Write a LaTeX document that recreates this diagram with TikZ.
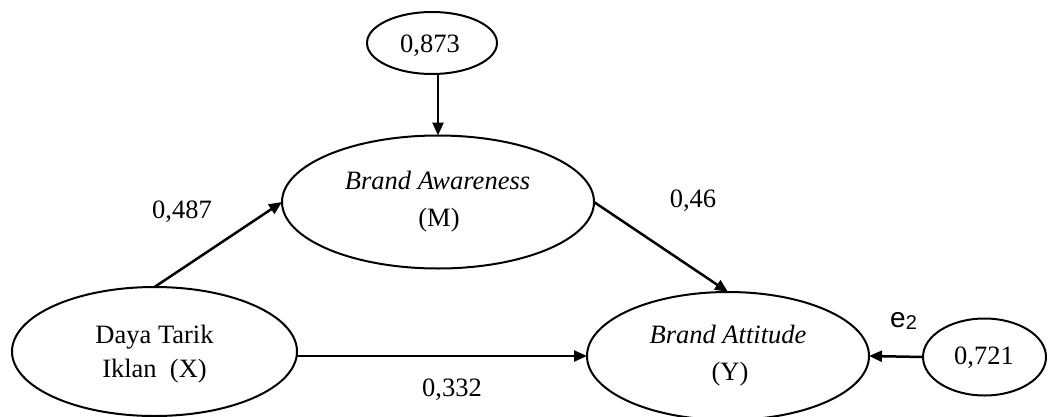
\documentclass[tikz,border=0pt]{standalone}
\usepackage{fontspec}
\setmainfont{Liberation Serif}
\newfontfamily\arialfont{Liberation Sans}
\usetikzlibrary{shapes.geometric,arrows.meta}
\tikzset{
  oval/.style={ellipse,draw,line width=2pt,inner sep=0pt,outer sep=0pt},
  arr/.style={line width=2.5pt,-{Triangle[length=13pt,width=11pt]}},
  txt/.style={anchor=base,inner sep=0pt,font=\fontsize{26.5}{30}\selectfont},
}
\begin{document}
\begin{tikzpicture}[x=1pt,y=-1pt]
\useasboundingbox (0,0) rectangle (1048,417);
% ellipses
\node[oval,minimum width=130pt,minimum height=62pt] (e873) at (432,43) {};
\node[oval,minimum width=312pt,minimum height=133pt] (M) at (438,202) {};
\node[oval,minimum width=285pt,minimum height=129pt] (X) at (154.5,351.5) {};
\node[oval,minimum width=282pt,minimum height=128pt] (Y) at (728,356) {};
\node[oval,minimum width=123pt,minimum height=77pt] (e721) at (984.5,357) {};
% texts
\node[txt] (t873) at (430,53) {0,873};
\node[txt] (tM1) at (437.5,189) {\itshape Brand Awareness};
\node[txt] (tM2) at (439,226) {(M)};
\node[txt] (tX1) at (154.5,343) {Daya Tarik};
\node[txt] (tX2) at (154.5,377) {Iklan\ \ (X)};
\node[txt] (tY1) at (728,343) {\itshape Brand Attitude};
\node[txt] (tY2) at (730,380) {(Y)};
\node[txt] (t721) at (984,364) {0,721};
% connectors
\draw[arr] (M.north |- e873.south) -- (M.north);
\draw[arr] (X.north) -- (M.west);
\draw[arr] (M.east) -- (Y.north);
\draw[arr] (X.east |- Y.west) -- (Y.west);
\draw[arr] (e721.west) -- (Y.east);
% path labels
\node[txt] (l487) at (182,218) {0,487};
\node[txt] (l46) at (693,207) {0,46};
\node[txt] (l332) at (452,396) {0,332};
\node[anchor=base west,inner sep=0pt,font=\arialfont\fontsize{28}{32}\selectfont] (le2) at (890,327) {e\raisebox{-2pt}{\fontsize{20}{22}\selectfont 2}};
\end{tikzpicture}
\end{document}
